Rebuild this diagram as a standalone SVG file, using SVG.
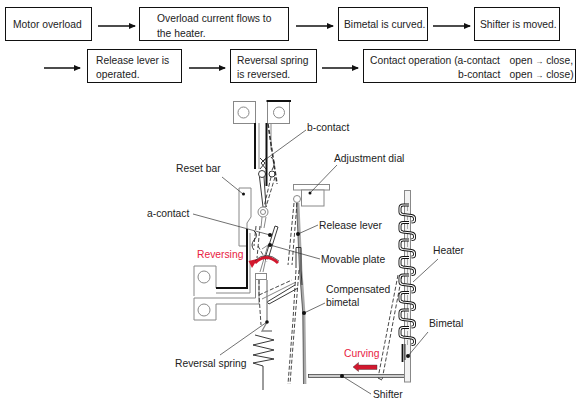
<svg xmlns="http://www.w3.org/2000/svg" width="586" height="404" viewBox="0 0 586 404">
<style>
text{font-family:"Liberation Sans",Arial,sans-serif;font-size:10.3px;fill:#222}
.r{fill:#e8213f}
.sm{font-size:8px}
.box{fill:#fff;stroke:#111;stroke-width:1}
.flow{stroke:#111;stroke-width:1.6;fill:none;marker-end:url(#ah)}
.g{fill:#fff;stroke:#888;stroke-width:1}
.gl{fill:none;stroke:#888;stroke-width:1}
.k{fill:none;stroke:#222;stroke-width:.9}
.kt{fill:none;stroke:#111;stroke-width:2}
.d{fill:none;stroke:#333;stroke-width:.9;stroke-dasharray:4 2}
.ld{fill:none;stroke:#333;stroke-width:.7}
.dot{fill:#111}
</style>
<defs>
<marker id="ah" markerWidth="7" markerHeight="6" refX="6" refY="3" orient="auto" markerUnits="userSpaceOnUse"><path d="M0 0L7 3L0 6Z" fill="#111"/></marker>
<path id="turn" d="M409 0H403Q400 0 400 3V7Q400 9 403 9.500L411.500 10.500Q414.500 11 414.500 13.500V15Q414.500 17 411.500 17"/>
</defs>
<g id="flow-connectors">
<path class="flow" d="M98 26H135"/><path class="flow" d="M296 26H333"/><path class="flow" d="M433 26H470"/>
<path class="flow" d="M44 68H80"/><path class="flow" d="M189 68H225"/><path class="flow" d="M322 68H358"/>
</g>
<g id="n1"><rect class="box" x="5.500" y="7.500" width="86" height="33"/><text x="13" y="28">Motor overload</text></g>
<g id="n2"><rect class="box" x="139.500" y="7.500" width="149" height="33"/><text x="157" y="22">Overload current flows to</text><text x="157" y="37">the heater.</text></g>
<g id="n3"><rect class="box" x="338.500" y="7.500" width="89" height="33"/><text x="344" y="28">Bimetal is curved.</text></g>
<g id="n4"><rect class="box" x="474.500" y="7.500" width="85" height="33"/><text x="480" y="28">Shifter is moved.</text></g>
<g id="n5"><rect class="box" x="87.500" y="49.500" width="94" height="33"/><text x="96" y="64">Release lever is</text><text x="96" y="78">operated.</text></g>
<g id="n6"><rect class="box" x="230.500" y="49.500" width="86" height="33"/><text x="237" y="64">Reversal spring</text><text x="237" y="78">is reversed.</text></g>
<g id="n7"><rect class="box" x="363.500" y="49.500" width="212" height="33"/><text x="370" y="64">Contact operation (a-contact</text><text x="509.500" y="64">open <tspan class="sm">→</tspan> close,</text><text x="458" y="78">b-contact</text><text x="509.500" y="78">open <tspan class="sm">→</tspan> close)</text></g>

<g id="mechanism">
<!-- top terminals -->
<rect class="g" x="233.500" y="101.500" width="22" height="22"/><circle class="g" cx="243.500" cy="112.500" r="5.500"/>
<rect class="g" x="267.500" y="101.500" width="22" height="22"/><circle class="g" cx="279" cy="112.500" r="5.500"/>
<path class="kt" d="M266.500 101H291"/><path class="kt" d="M255 123V169"/><path class="gl" d="M259 123V169"/>
<path class="kt" d="M266.500 123V186"/>
<path class="gl" d="M271 123V150"/>
<path class="d" style="stroke-width:1.600" d="M268 124L277 184"/>
<!-- contacts -->
<path class="k" d="M260 158L265 163L260 169M266 158L261 163L266 169"/>
<path class="k" d="M271 157Q277 162 272 170"/>
<circle class="k" cx="262" cy="174" r="3.500"/><circle class="k" cx="272" cy="174" r="3"/>
<path class="k" d="M259.500 177L263 207M264 177L266 207"/>
<path class="d" d="M271 177L264 207M275 177L266 207"/>
<!-- reset bar -->
<path class="g" d="M239 188H251V217L247 223V246H239Z"/>
<!-- pivot and movable plate -->
<circle class="g" cx="263" cy="212" r="5"/><circle class="gl" cx="263" cy="212" r="2.500"/>
<path class="gl" d="M262 217L261 228M266 217L264 228"/>
<path class="d" d="M256 226L254 246M260 226L257 258"/>
<path class="k" d="M275 226L265 258L268 259L278 227Z"/>
<path class="k" d="M254 231Q259 235 254 240Q250 245 254 250"/>
<path class="gl" d="M262 249L268 245L260 272M266 258L263 272"/>
<path class="d" d="M258 246L267 262"/>
<!-- a-contact bar and lower terminals -->
<path d="M194 266H216V288H194Z" fill="#fff"/>
<path class="gl" d="M194 266H216V288M194 266V296"/>
<circle class="g" cx="204" cy="277" r="6"/>
<path class="gl" d="M216 293H250V233"/>
<path class="kt" d="M247 229V288H216"/>
<path class="g" d="M194 298H255.500V275H259V304H216V320H194Z"/>
<circle class="g" cx="204" cy="310" r="6"/>
<rect class="g" x="255.500" y="273.500" width="11" height="6"/>
<!-- links -->
<path class="d" d="M259 295L292 280"/>
<path class="gl" d="M262 299L296 282"/>
<path class="k" d="M267 302L295 285M269 304L298 288M267 302L269 304"/>
<path class="d" d="M259 280V295L261 325"/>
<path class="gl" d="M267 280V322L262 331H272" style="stroke-width:1.300"/>
<!-- red reversing arrow -->
<path d="M255 263Q266 252 278 263" fill="none" stroke="#d2182e" stroke-width="3"/><path d="M257.500 259L252 268L248.500 261Z" fill="#d2182e"/>
<path d="M255 260.500Q266 250 279 261" fill="none" stroke="#222" stroke-width=".7"/>
<!-- spring -->
<path class="k" d="M255 335L274 340L253 345L274 350L253 355L274 359L253 363L263 366V390"/>
<!-- adjustment dial -->
<rect class="g" x="293.500" y="184.500" width="36" height="5.500"/><rect class="g" x="301.500" y="190" width="22.500" height="16"/>
<!-- release lever, compensated bimetal -->
<path d="M298 203L301 270L304 313L305 384" fill="none" stroke="#aaa" stroke-width="2.800"/>
<path d="M296.500 203L299.500 270L302.800 313L303.500 384" fill="none" stroke="#333" stroke-width=".7"/>
<path class="d" d="M294 203L288 265M297 203L292 265"/>
<path class="d" d="M296 270L293 320L288 384M299 270L295 320L290 384"/>
<path class="k" d="M296 268V247.500H301V270L302 285"/>
<circle class="g" cx="297" cy="199" r="3.500"/>
<!-- dashed shifter link -->
<path class="d" d="M398 275L378 378M402 275L382 380"/>
<path class="k" d="M378 378L382 380"/>
<!-- shifter -->
<rect x="308.500" y="374.500" width="96" height="3" fill="#ccc" stroke="#333" stroke-width=".7"/>
<!-- curving arrow -->
<path d="M377 365H358.500V362.500L353 367L358.500 371.500V369.500H377Z" fill="#d2182e" stroke="#333" stroke-width=".4"/>
<!-- bimetal -->
<rect x="404.500" y="190.500" width="6" height="191.500" fill="#f2f2f2" stroke="#888"/>
<path d="M407.500 205V345" fill="none" stroke="#aaa" stroke-dasharray="6 3"/>
<path class="kt" d="M402.500 344V362" style="stroke-width:1.800"/>
<path class="k" d="M405 344V360"/>
<!-- heater -->
<g fill="none" stroke="#111" stroke-width="3">
<use href="#turn" y="205"/><use href="#turn" y="222.500"/><use href="#turn" y="240"/><use href="#turn" y="257.500"/><use href="#turn" y="275"/><use href="#turn" y="292.500"/><use href="#turn" y="310"/><use href="#turn" y="327.500"/>
</g>
<g fill="none" stroke="#fff" stroke-width="1.200">
<use href="#turn" y="205"/><use href="#turn" y="222.500"/><use href="#turn" y="240"/><use href="#turn" y="257.500"/><use href="#turn" y="275"/><use href="#turn" y="292.500"/><use href="#turn" y="310"/><use href="#turn" y="327.500"/>
</g>
<!-- leaders -->
<path class="ld" d="M306 130L262 162"/>
<path class="ld" d="M337 165L310 193"/><circle class="dot" cx="310" cy="193" r="1.500"/>
<path class="ld" d="M222 177L243 194"/><circle class="dot" cx="243.500" cy="194" r="1.500"/>
<path class="ld" d="M193 214L270 235"/><circle class="dot" cx="270" cy="235" r="2"/>
<path class="ld" d="M318 225L298 234"/><circle class="dot" cx="298" cy="234" r="2"/>
<path class="ld" d="M320 259L270 245"/><circle class="dot" cx="270" cy="245" r="2"/>
<path class="ld" d="M325 303L304 313"/><circle class="dot" cx="304" cy="313" r="2"/>
<path class="ld" d="M438 259L413 282"/>
<path class="ld" d="M428 332L408 356"/><circle class="dot" cx="408" cy="356" r="2"/>
<path class="ld" d="M220 355L267 322"/><circle class="dot" cx="267" cy="322" r="1.800"/>
<path class="ld" d="M371 394L342 376"/><circle class="dot" cx="342" cy="376" r="2"/>
</g>
<text x="307" y="131">b-contact</text>
<text x="334" y="162">Adjustment dial</text>
<text x="176" y="172">Reset bar</text>
<text x="147" y="217">a-contact</text>
<text x="319" y="229">Release lever</text>
<text x="321" y="263">Movable plate</text>
<text x="326" y="293">Compensated</text>
<text x="326" y="306">bimetal</text>
<text x="433" y="254">Heater</text>
<text x="429" y="327">Bimetal</text>
<text x="175" y="367">Reversal spring</text>
<text x="373" y="398">Shifter</text>
<text class="r" x="197" y="258">Reversing</text>
<text class="r" x="344" y="357">Curving</text>
</svg>
